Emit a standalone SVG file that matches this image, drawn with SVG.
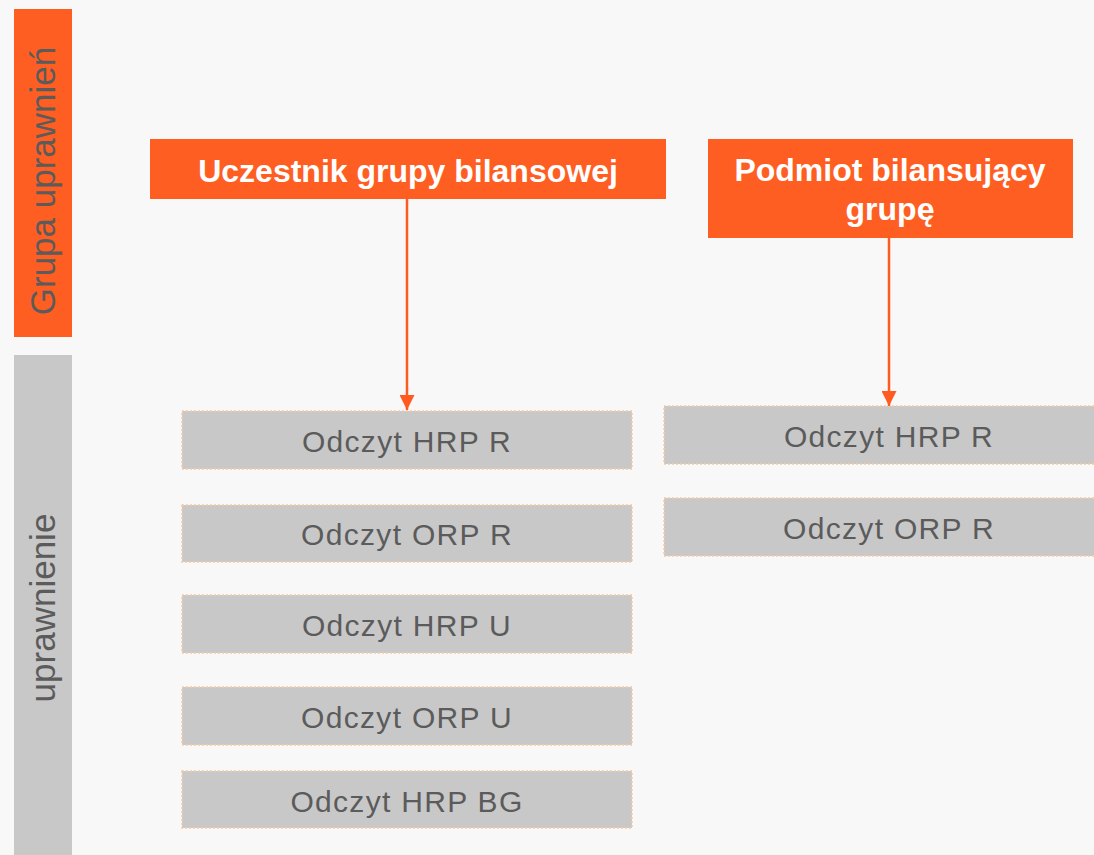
<svg xmlns="http://www.w3.org/2000/svg" width="1094" height="855" viewBox="0 0 1094 855">
<style>
.bg{fill:#f8f8f8}
.org{fill:#ff5e23}
.side{fill:#c8c8c8}
.box{fill:#c8c8c8;stroke:#f7c9a0;stroke-width:1.5;stroke-dasharray:2 2}
.t{font-family:"Liberation Sans",Arial,sans-serif;font-size:30px;fill:#5b5b5b;text-anchor:middle;letter-spacing:1.3px}
.vt{font-family:"Liberation Sans",Arial,sans-serif;font-size:35px;fill:#5b5b5b;text-anchor:middle}
.h{font-family:"Liberation Sans",Arial,sans-serif;font-size:32px;font-weight:bold;fill:#ffffff;text-anchor:middle}
.c{stroke:#ff5a1f;stroke-width:2.5;fill:none}
</style>
<defs>
<marker id="ah" viewBox="0 0 10 10" refX="10" refY="5" markerWidth="6" markerHeight="6" markerUnits="strokeWidth" orient="auto">
<path d="M0,0 L10,5 L0,10 z" fill="#ff5a1f"/>
</marker>
</defs>
<rect class="bg" x="0" y="0" width="1094" height="855"/>
<g id="label-grupa">
<rect class="org" x="14" y="9" width="58" height="328"/>
<text class="vt" transform="translate(55,181) rotate(-90)">Grupa uprawnień</text>
</g>
<g id="label-uprawnienie">
<rect class="side" x="14" y="355" width="58" height="500"/>
<text class="vt" transform="translate(55,608) rotate(-90)">uprawnienie</text>
</g>
<g id="uczestnik">
<rect class="org" x="150" y="139" width="516" height="60"/>
<text class="h" x="408" y="182">Uczestnik grupy bilansowej</text>
</g>
<g id="podmiot">
<rect class="org" x="708" y="139" width="365" height="99"/>
<text class="h" x="890" y="181">Podmiot bilansujący</text>
<text class="h" x="890" y="220">grupę</text>
</g>
<g id="l-hrp-r">
<rect class="box" x="182" y="411" width="450" height="58"/>
<text class="t" x="407" y="452">Odczyt HRP R</text>
</g>
<g id="l-orp-r">
<rect class="box" x="182" y="505" width="450" height="57"/>
<text class="t" x="407" y="545">Odczyt ORP R</text>
</g>
<g id="l-hrp-u">
<rect class="box" x="182" y="595" width="450" height="58"/>
<text class="t" x="407" y="636">Odczyt HRP U</text>
</g>
<g id="l-orp-u">
<rect class="box" x="182" y="687" width="450" height="58"/>
<text class="t" x="407" y="728">Odczyt ORP U</text>
</g>
<g id="l-hrp-bg">
<rect class="box" x="182" y="771" width="450" height="57"/>
<text class="t" x="407" y="812">Odczyt HRP BG</text>
</g>
<g id="r-hrp-r">
<rect class="box" x="664" y="406" width="440" height="58"/>
<text class="t" x="889" y="447">Odczyt HRP R</text>
</g>
<g id="r-orp-r">
<rect class="box" x="664" y="498" width="440" height="58"/>
<text class="t" x="889" y="539">Odczyt ORP R</text>
</g>
<g id="connectors">
<line class="c" x1="407" y1="199" x2="407" y2="410" marker-end="url(#ah)"/>
<line class="c" x1="889" y1="238" x2="889" y2="406" marker-end="url(#ah)"/>
</g>
</svg>
